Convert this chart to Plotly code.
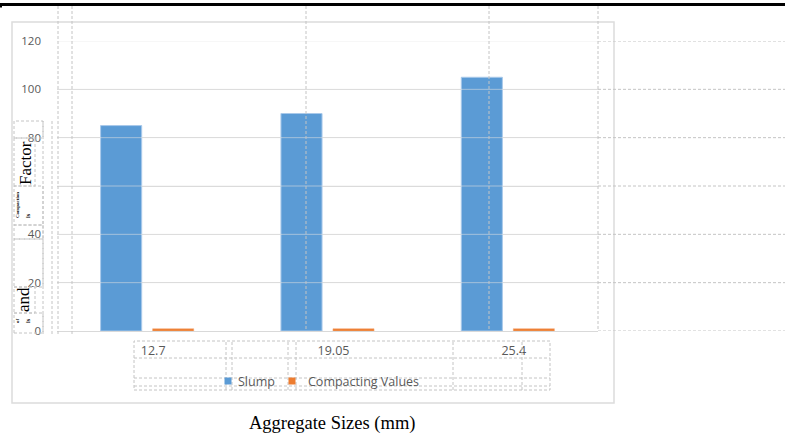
import plotly.graph_objects as go

# Data
sizes = ["12.7", "19.05", "25.4"]
slump = [85, 90, 105]
compacting = [0.95, 0.96, 0.97]
y_ticks = [0, 20, 40, 60, 80, 100, 120]
y_tick_text = ["0", "20", "40", "", "80", "100", "120"]
series_names = ["Slump", "Compacting Values"]
series_colors = ["#5b9bd5", "#ed7d31"]

W, H = 785, 433
ML, MR, MT, MB = 57, 187, 41, 102
PW = W - ML - MR
PH = H - MT - MB


def px(x):
    return (x - ML) / PW


def py(y):
    return (H - MB - y) / PH


fig = go.Figure()
fig.add_trace(go.Bar(
    name=series_names[0], x=sizes, y=slump, showlegend=False,
    marker=dict(color=series_colors[0], line=dict(color="#a9c9ea", width=1)),
))
fig.add_trace(go.Bar(
    name=series_names[1], x=sizes, y=compacting, showlegend=False,
    marker=dict(color=series_colors[1], line=dict(color="#f3a877", width=0.5)),
))

grey_dash = dict(color="#c4c4c4", width=1, dash="3px,2px")
shapes = []

# outer chart frame
shapes.append(dict(type="rect", xref="paper", yref="paper",
                   x0=px(12), x1=px(614), y0=py(403), y1=py(22),
                   line=dict(color="#dcdcdc", width=1.5), layer="below"))
# heavy rule at the top of the page
shapes.append(dict(type="line", xref="paper", yref="paper",
                   x0=px(0), x1=px(785), y0=py(4.5), y1=py(4.5),
                   line=dict(color="black", width=3)))
shapes.append(dict(type="line", xref="paper", yref="paper",
                   x0=px(0), x1=px(2), y0=py(6.5), y1=py(6.5),
                   line=dict(color="black", width=2)))

# light gridline overlay across the bars
for t in y_ticks[1:]:
    shapes.append(dict(type="line", xref="paper", yref="y",
                       x0=0, x1=1, y0=t, y1=t,
                       line=dict(color="rgba(226,226,226,0.55)", width=1)))
# dashed extensions to the right of the plot
for t in y_ticks:
    shapes.append(dict(type="line", xref="paper", yref="y",
                       x0=1, x1=px(785), y0=t, y1=t, line=grey_dash))

# dashed verticals
for xv, yb in [(58, 334), (72, 336), (306, 331), (489, 331), (598, 331)]:
    shapes.append(dict(type="line", xref="paper", yref="paper",
                       x0=px(xv), x1=px(xv), y0=py(6), y1=py(yb), line=grey_dash))

# dashed boxes around the left labels
for x0, y0, x1, y1 in [(14, 121, 43, 138), (14, 138, 35, 186), (14, 186, 43, 225),
                       (14, 225, 43, 239), (14, 239, 43, 287), (14, 287, 35, 313),
                       (14, 313, 43, 333)]:
    shapes.append(dict(type="rect", xref="paper", yref="paper",
                       x0=px(x0), x1=px(x1), y0=py(y1), y1=py(y0), line=grey_dash))
for xv in (43, 52):
    shapes.append(dict(type="line", xref="paper", yref="paper",
                       x0=px(xv), x1=px(xv), y0=py(121), y1=py(336), line=grey_dash))

# dashed boxes around the category labels and legend
shapes.append(dict(type="rect", xref="paper", yref="paper",
                   x0=px(134), x1=px(550), y0=py(390), y1=py(341), line=grey_dash))
for xv in (226, 232, 288, 296, 453, 522):
    shapes.append(dict(type="line", xref="paper", yref="paper",
                       x0=px(xv), x1=px(xv), y0=py(390), y1=py(341), line=grey_dash))
for yv in (358, 378, 386):
    shapes.append(dict(type="line", xref="paper", yref="paper",
                       x0=px(134), x1=px(550), y0=py(yv), y1=py(yv), line=grey_dash))


def note(text, x, y, size, angle=0):
    return dict(text=text, xref="paper", yref="paper", x=px(x), y=py(y),
                xanchor="center", yanchor="middle", showarrow=False, textangle=angle,
                font=dict(family="Liberation Serif", size=size, color="black"))


annotations = [
    note("Aggregate Sizes (mm)", 332, 423, 18.5),
    note("Factor", 25, 163, 17, -90),
    note("and", 23, 300, 17, -90),
    note("<b>Compaction</b>", 17, 205, 5, -90),
    note("<b>is</b>", 28, 216, 6, -90),
    note("<b>of</b>", 17, 321, 5, -90),
    note("<b>is</b>", 28, 321, 6, -90),
]

# legend: small square keys followed by the series names
for (kx, tx), name, col in zip([(228, 236), (292, 306)], series_names, series_colors):
    shapes.append(dict(type="rect", xref="paper", yref="paper",
                       x0=px(kx - 3.5), x1=px(kx + 3.5), y0=py(384.5), y1=py(377.5),
                       fillcolor=col, line=dict(width=0)))
    annotations.append(dict(text=name, xref="paper", yref="paper", x=px(tx), y=py(381),
                            xanchor="left", yanchor="middle", showarrow=False,
                            font=dict(family="Open Sans", size=12.5, color="#595959")))

fig.update_layout(
    width=W, height=H,
    margin=dict(l=ML, r=MR, t=MT, b=MB),
    paper_bgcolor="white", plot_bgcolor="white",
    barmode="group", bargap=0.423, bargroupgap=0.21,
    font=dict(family="Open Sans", size=11, color="#595959"),
    showlegend=False,
    shapes=shapes, annotations=annotations,
)
fig.update_xaxes(showgrid=False, showline=True, linecolor="#d9d9d9", linewidth=1,
                 ticks="", ticklabelstandoff=8, ticklabelshift=6,
                 tickfont=dict(size=12.5, color="#595959"))
fig.update_yaxes(range=[0, 120], tickvals=y_ticks, ticktext=y_tick_text,
                 showgrid=True, gridcolor="#d9d9d9",
                 gridwidth=1, zeroline=False, showline=False, ticks="",
                 ticklabelstandoff=15, tickfont=dict(size=11.5, color="#595959"))

fig.write_html("out.html")
